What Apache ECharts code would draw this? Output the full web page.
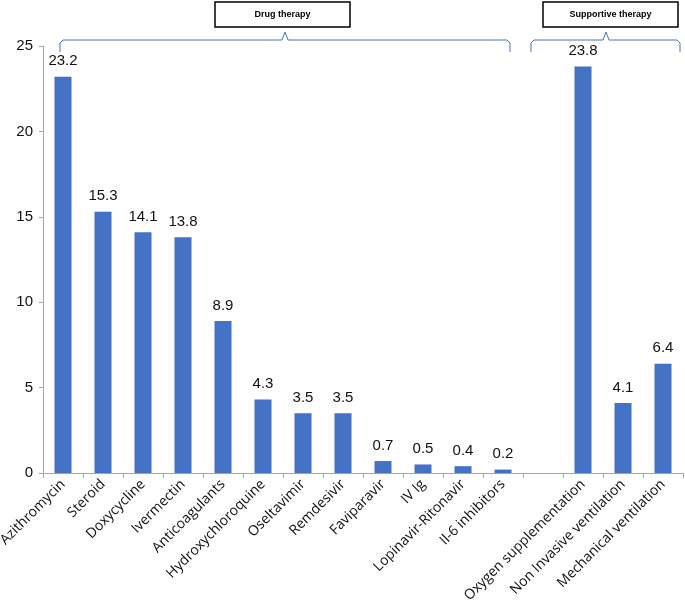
<!DOCTYPE html>
<html><head><meta charset="utf-8">
<script src="https://cdn.jsdelivr.net/npm/echarts@6/dist/echarts.min.js"></script>
<style>html,body{margin:0;padding:0;background:#fff}#c{width:685px;height:614px}</style>
</head><body><div id="c"></div>
<script>
const categories = ['Azithromycin','Steroid','Doxycycline','Ivermectin','Anticoagulants','Hydroxychloroquine','Oseltavimir','Remdesivir','Faviparavir','IV Ig','Lopinavir-Ritonavir','Il-6 inhibitors','','Oxygen supplementation','Non Invasive ventilation','Mechanical ventilation'];
const values = [23.2,15.3,14.1,13.8,8.9,4.3,3.5,3.5,0.7,0.5,0.4,0.2,null,23.8,4.1,6.4];
const yTicks = [0,5,10,15,20,25];
const groupLabels = ['Drug therapy','Supportive therapy'];

const chart = echarts.init(document.getElementById('c'));
const font = 'Liberation Sans, Arial, sans-serif';
const braceColor = '#4a72b8';
function brace(x1, x2, xm, y) {
  return {
    type: 'polyline', silent: true,
    shape: { points: [[x1, y + 12], [x1, y + 3], [x1 + 3, y], [xm - 3, y], [xm, y - 8], [xm + 3, y], [x2 - 3, y], [x2, y + 3], [x2, y + 12]] },
    style: { stroke: braceColor, lineWidth: 1, fill: null }
  };
}
function box(x, w, text) {
  return {
    type: 'group', children: [
      { type: 'rect', shape: { x: x, y: 2, width: w, height: 25 }, style: { stroke: '#000', lineWidth: 1.5, fill: '#fff' } },
      { type: 'text', x: x + w / 2, y: 14.5, style: { text: text, font: 'bold 9px ' + font, fill: '#000', align: 'center', verticalAlign: 'middle' } }
    ]
  };
}
chart.setOption({
  animation: false,
  grid: { left: 43, right: 2, top: 46, bottom: 141, containLabel: false, outerBoundsMode: 'none' },
  xAxis: {
    type: 'category', data: categories,
    axisLine: { lineStyle: { color: '#a6a6a6' } },
    axisTick: { show: true, length: 5, lineStyle: { color: '#a6a6a6' } },
    axisLabel: { rotate: 45, interval: 0, fontSize: 14, color: '#111', fontFamily: 'Open Sans', margin: 9 }
  },
  yAxis: {
    type: 'value', min: yTicks[0], max: yTicks[yTicks.length - 1], interval: 5,
    axisLine: { show: true, lineStyle: { color: '#a6a6a6' } },
    axisTick: { show: true, length: 4, lineStyle: { color: '#a6a6a6' } },
    splitLine: { show: false },
    axisLabel: { fontSize: 15, color: '#111', fontFamily: font, margin: 10 }
  },
  series: [{
    type: 'bar', data: values, barWidth: 17,
    itemStyle: { color: '#4472c4' },
    label: { show: true, position: 'top', fontSize: 15, color: '#111', fontFamily: font, distance: 8 }
  }],
  graphic: [
    brace(60, 510, 285, 40),
    brace(531, 680, 606, 40),
    box(215, 135, groupLabels[0]),
    box(543, 135, groupLabels[1])
  ]
});
</script></body></html>
